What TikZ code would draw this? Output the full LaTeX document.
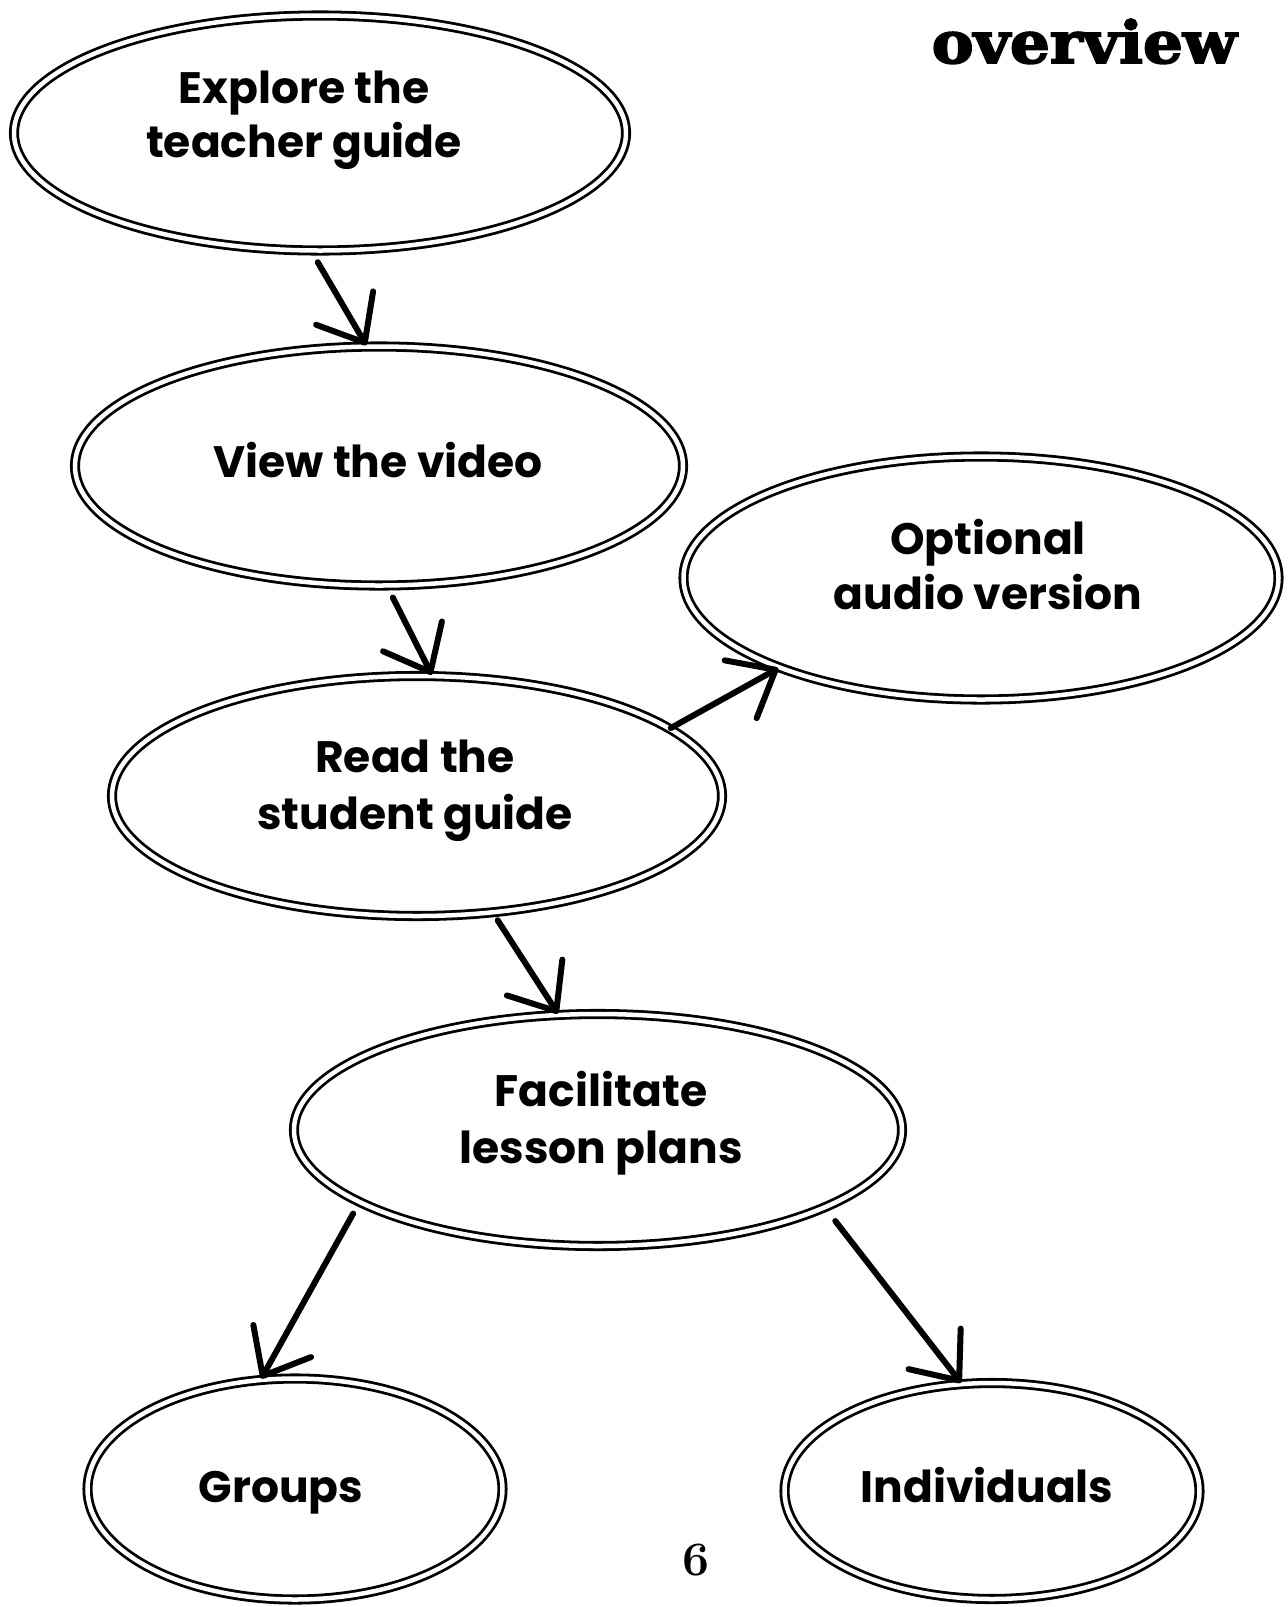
\documentclass[tikz,border=0pt]{standalone}
\usepackage{fontspec}
\usetikzlibrary{shapes.geometric,arrows.meta}
\newfontfamily\lblfont{Poppins}
\newfontfamily\titlefont[BoldFeatures={FakeBold=3}]{DejaVu Serif}
\begin{document}
\begin{tikzpicture}[x=1pt,y=-1pt]
\tikzset{
  bub/.style={ellipse, draw=black, line width=2.8pt, double=white, double distance=4.5pt, inner sep=0pt},
  lbl/.style={font=\lblfont\bfseries\fontsize{44}{54}\selectfont, anchor=base, inner sep=0pt},
  arr/.style={line width=6pt, line cap=round, -{Straight Barb[length=40pt,width=66pt,line cap=round,line join=round]}},
}
\useasboundingbox[fill=white] (0,0) rectangle (1288,1607);

% ellipses
\node[bub, minimum width=612pt, minimum height=235pt] (e1) at (320,133) {};
\node[bub, minimum width=608pt, minimum height=239pt] (e2) at (379,466) {};
\node[bub, minimum width=595pt, minimum height=243pt] (e3) at (981,578) {};
\node[bub, minimum width=610pt, minimum height=240pt] (e4) at (417,796) {};
\node[bub, minimum width=608pt, minimum height=232pt] (e5) at (598,1130) {};
\node[bub, minimum width=415pt, minimum height=221pt] (e6) at (295,1489) {};
\node[bub, minimum width=415pt, minimum height=216pt] (e7) at (992,1491) {};

% labels
\node[lbl] (t1a) at (304,103) {Explore the};
\node[lbl] (t1b) at (304,157) {teacher guide};
\node[lbl] (t2)  at (378,477) {View the video};
\node[lbl] (t3a) at (988,554) {Optional};
\node[lbl] (t3b) at (988,609) {audio version};
\node[lbl] (t4a) at (415,772) {Read the};
\node[lbl] (t4b) at (415,829) {student guide};
\node[lbl] (t5a) at (601,1106) {Facilitate};
\node[lbl] (t5b) at (601,1163) {lesson plans};
\node[lbl] (t6)  at (281,1502) {Groups};
\node[lbl] (t7)  at (987,1502) {Individuals};

% title and page number
\node[anchor=base east, inner sep=0pt, font=\titlefont\bfseries\fontsize{58}{60}\selectfont] (title) at (1237,63) {\scalebox{1.08}[1]{overview}};
\node[anchor=base, inner sep=0pt, font=\bfseries\fontsize{48}{50}\selectfont] (page) at (696,1575) {6};

% arrows
\draw[arr, shorten <=12pt] (e1.-94) -- (e2.96);
\draw[arr, shorten <=12pt] (e2.-86) -- (e4.83);
\draw[arr] (e4.15) -- (e3.204);
\draw[arr, shorten <=8pt] (e4.-57) -- (e5.109);
\draw[arr, shorten <=12pt] (e5.197) -- (e6.107);
\draw[arr, shorten <=16pt] (e5.-19.6) -- (e7.106);
\end{tikzpicture}
\end{document}
